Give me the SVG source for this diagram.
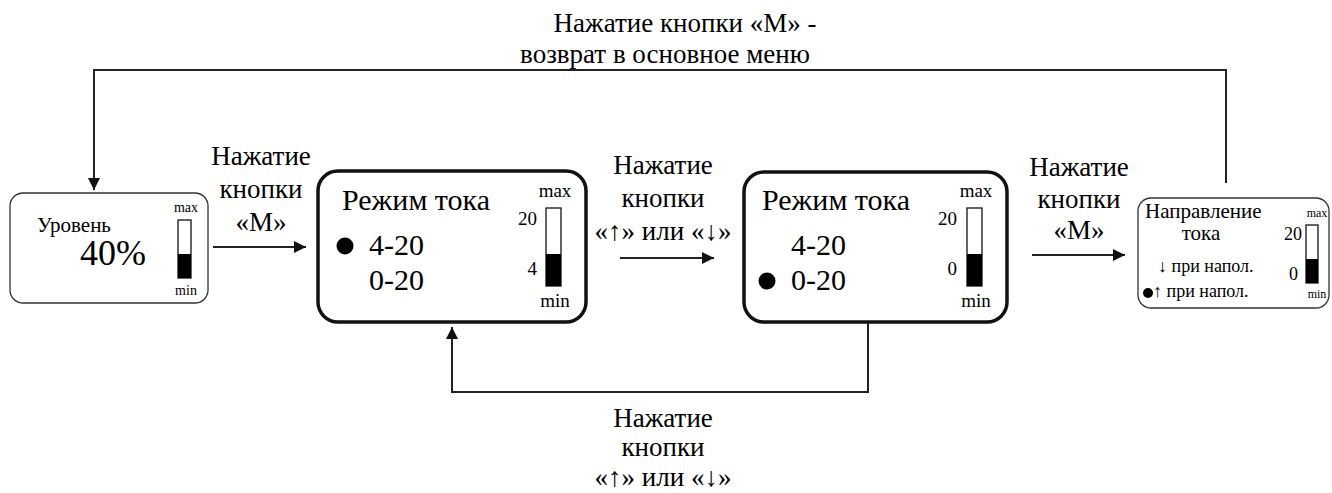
<svg xmlns="http://www.w3.org/2000/svg" width="1332" height="493" viewBox="0 0 1332 493" xml:lang="ru">
<style>
text{font-family:"Liberation Serif","Times New Roman",serif;fill:#000}
.lbl{font-size:27px;text-anchor:middle}
.thin{fill:#fff;stroke:#333;stroke-width:1.3}
.thick{fill:#fff;stroke:#111;stroke-width:3.5}
.bar{fill:#fff;stroke:#111;stroke-width:1.3}
.fill{fill:#000}
.conn{fill:none;stroke:#222;stroke-width:2}
.mid{text-anchor:middle}
.end{text-anchor:end}
</style>
<defs>
<marker id="ah" markerUnits="userSpaceOnUse" markerWidth="12" markerHeight="12" refX="12" refY="6" orient="auto">
<path d="M0,0 L12,6 L0,12 z" fill="#111"/>
</marker>
</defs>
<g id="connectors">
<polyline class="conn" points="1226,183 1226,70 94,70 94,190" marker-end="url(#ah)"/>
<polyline class="conn" points="868,323 868,392 452,392 452,327" marker-end="url(#ah)"/>
<line class="conn" x1="213" y1="247" x2="306" y2="247" marker-end="url(#ah)"/>
<line class="conn" x1="620" y1="258" x2="714" y2="258" marker-end="url(#ah)"/>
<line class="conn" x1="1032" y1="255" x2="1125" y2="255" marker-end="url(#ah)"/>
<text class="lbl" x="685" y="32">Нажатие кнопки «М» -</text>
<text class="lbl" x="665" y="63">возврат в основное меню</text>
<text class="lbl" x="261" y="165">Нажатие</text>
<text class="lbl" x="261" y="198">кнопки</text>
<text class="lbl" x="261" y="231">«М»</text>
<text class="lbl" x="663" y="174">Нажатие</text>
<text class="lbl" x="663" y="207">кнопки</text>
<text class="lbl" x="663" y="240">«↑» или «↓»</text>
<text class="lbl" x="1079" y="176">Нажатие</text>
<text class="lbl" x="1079" y="208">кнопки</text>
<text class="lbl" x="1079" y="239">«М»</text>
<text class="lbl" x="663" y="427">Нажатие</text>
<text class="lbl" x="663" y="456">кнопки</text>
<text class="lbl" x="663" y="486">«↑» или «↓»</text>
</g>
<g id="level">
<rect class="thin" x="10" y="193" width="198" height="110" rx="13"/>
<text font-size="21" x="37" y="232">Уровень</text>
<text font-size="36" x="80" y="265">40%</text>
<text class="mid" font-size="14" x="186" y="212">max</text>
<rect class="bar" x="178" y="220" width="13" height="58"/>
<rect class="fill" x="178" y="254" width="13" height="24"/>
<text class="mid" font-size="14" x="186" y="295">min</text>
</g>
<g id="mode1">
<rect class="thick" x="318" y="171" width="268" height="151" rx="20"/>
<text font-size="30" x="342" y="210">Режим тока</text>
<circle cx="345" cy="246" r="8.5" fill="#000"/>
<text font-size="30" x="369" y="255">4-20</text>
<text font-size="30" x="369" y="290">0-20</text>
<text class="mid" font-size="19" x="555" y="197">max</text>
<rect class="bar" x="546" y="208" width="15" height="78"/>
<rect class="fill" x="546" y="254" width="15" height="32"/>
<text class="mid" font-size="19" x="555" y="307">min</text>
<text class="end" font-size="19" x="537" y="225">20</text>
<text class="end" font-size="19" x="537" y="275">4</text>
</g>
<g id="mode2">
<rect class="thick" x="744" y="172" width="263" height="150" rx="20"/>
<text font-size="30" x="762" y="210">Режим тока</text>
<circle cx="767" cy="281" r="8.5" fill="#000"/>
<text font-size="30" x="791" y="255">4-20</text>
<text font-size="30" x="791" y="290">0-20</text>
<text class="mid" font-size="19" x="976" y="197">max</text>
<rect class="bar" x="967" y="208" width="15" height="78"/>
<rect class="fill" x="967" y="254" width="15" height="32"/>
<text class="mid" font-size="19" x="976" y="307">min</text>
<text class="end" font-size="19" x="957" y="225">20</text>
<text class="end" font-size="19" x="957" y="275">0</text>
</g>
<g id="direction">
<rect class="thin" x="1138" y="198" width="191" height="110" rx="13"/>
<text font-size="21" x="1145" y="218">Направление</text>
<text class="mid" font-size="21" x="1201" y="240">тока</text>
<text font-size="18" x="1158" y="272">↓ при напол.</text>
<circle cx="1148" cy="293" r="5" fill="#000"/>
<text font-size="18" x="1153" y="297">↑ при напол.</text>
<text class="end" font-size="18" x="1302" y="240">20</text>
<text class="end" font-size="18" x="1298" y="280">0</text>
<text class="mid" font-size="12" x="1317" y="217">max</text>
<rect class="bar" x="1306" y="225" width="12" height="58"/>
<rect class="fill" x="1306" y="259" width="12" height="24"/>
<text class="mid" font-size="12" x="1317" y="298">min</text>
</g>
</svg>
